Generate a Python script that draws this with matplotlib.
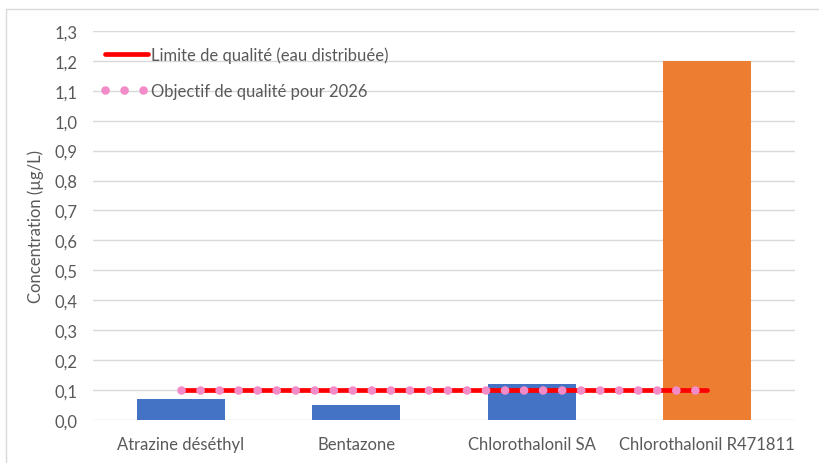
import numpy as np
import matplotlib
matplotlib.use('Agg')
import matplotlib.pyplot as plt
from matplotlib.patches import Rectangle
from matplotlib.ticker import FuncFormatter

plt.rcParams['font.family'] = ['Lato', 'DejaVu Sans']

categories = ['Atrazine déséthyl', 'Bentazone', 'Chlorothalonil SA',
              'Chlorothalonil R471811']
concentrations = [0.07, 0.05, 0.12, 1.2]
bar_colors = ['#4472C4', '#4472C4', '#4472C4', '#ED7D31']
limite_qualite = [0.1, 0.1, 0.1, 0.1]
objectif_2026 = [0.1, 0.1, 0.1, 0.1]
y_ticks = np.arange(0, 14) / 10

text_color = '#595959'
fs = 12

fig = plt.figure(figsize=(8.19, 4.64), dpi=100)
fig.patches.append(Rectangle((6 / 819, -0.1), 1.2, 1 - 10 / 464 + 0.1,
                             transform=fig.transFigure, fill=False,
                             edgecolor='#D9D9D9', linewidth=1))
ax = fig.add_axes([93 / 819, 1 - 420.7 / 464, 702 / 819, (420.7 - 32) / 464])

x = np.arange(len(categories))
ax.bar(x, concentrations, width=0.5, color=bar_colors, zorder=2)

ax.plot(x, limite_qualite, color='#FF0000', linewidth=3.4,
        solid_capstyle='round', zorder=3,
        label='Limite de qualité (eau distribuée)')
ax.plot(x, objectif_2026, color='#F28CC9', linewidth=6.2,
        linestyle=(0, (0.01, 2.2)), dash_capstyle='round', zorder=4,
        label='Objectif de qualité pour 2026')

ax.set_xlim(-0.5, 3.5)
ax.set_ylim(0, 1.3)
ax.set_yticks(y_ticks)
ax.yaxis.set_major_formatter(FuncFormatter(lambda v, p: f'{v:.1f}'.replace('.', ',')))
ax.set_xticks(x)
ax.set_xticklabels(categories)
ax.grid(axis='y', color='#D9D9D9', linewidth=1, zorder=0)
ax.set_axisbelow(True)
for s in ax.spines.values():
    s.set_visible(False)
ax.tick_params(axis='both', length=0, colors=text_color, labelsize=fs)
ax.tick_params(axis='y', pad=11)
ax.tick_params(axis='x', pad=12)
ax.set_ylabel('Concentration (µg/L)', color=text_color, fontsize=fs,
              labelpad=8)

leg = ax.legend(loc='upper left', bbox_to_anchor=(0.0, 0.99), frameon=False,
                fontsize=fs, handlelength=2.6, handletextpad=0.2,
                labelspacing=1.2, borderaxespad=0.3)
for t in leg.get_texts():
    t.set_color(text_color)

fig.savefig('out.png', dpi=100)
